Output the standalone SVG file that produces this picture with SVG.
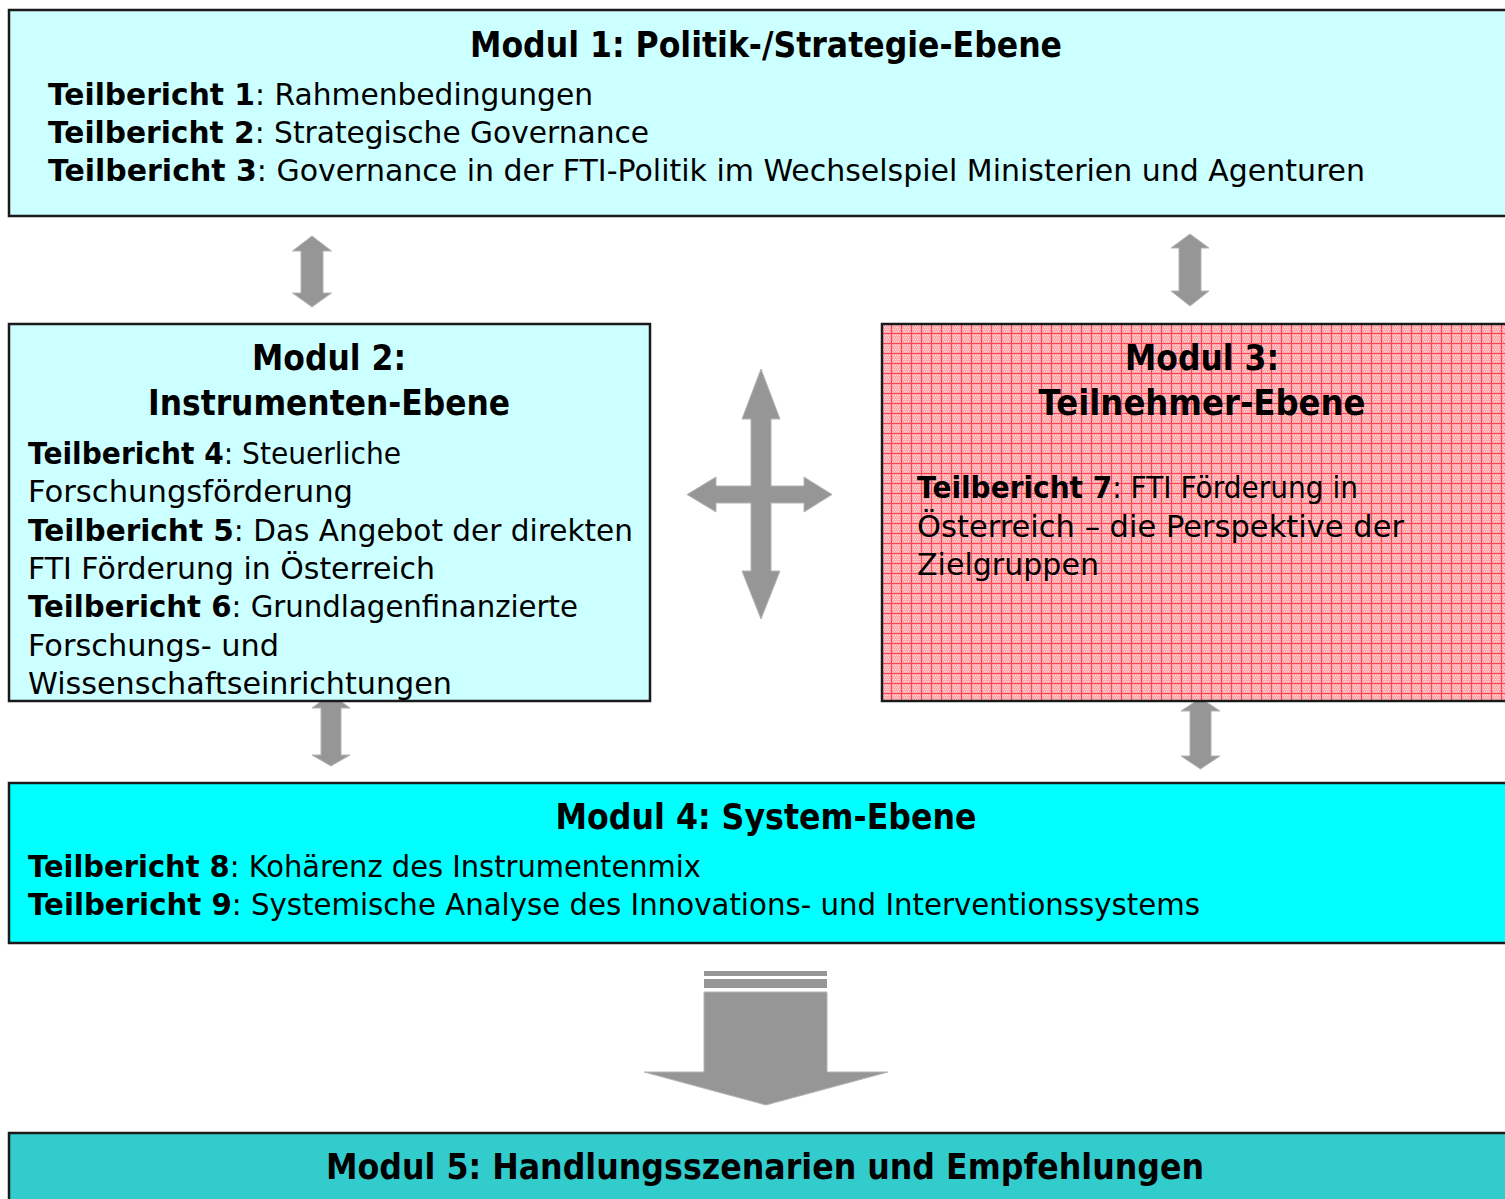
<svg xmlns="http://www.w3.org/2000/svg" width="1505" height="1199" viewBox="0 0 1505 1199">
<style>
.box{stroke:#1a1a1a;stroke-width:2.5}
.t{font-family:"DejaVu Sans","Liberation Sans",sans-serif;fill:#000}
.h{font-size:36px;font-weight:bold}
.b{font-size:30px}
.bb{font-weight:bold}
.arr{fill:#969696;stroke:#b4b4b4;stroke-width:1}
.d{fill:#ffdcdc}
</style>
<defs>
<pattern id="grid" x="881" y="323" width="10" height="10" patternUnits="userSpaceOnUse">
<rect width="10" height="10" fill="#ffa6ab"/>
<rect class="d" x="2" y="2" width="1" height="1"/>
<rect class="d" x="4" y="2" width="1" height="1"/>
<rect class="d" x="6" y="2" width="1" height="1"/>
<rect class="d" x="8" y="2" width="1" height="1"/>
<rect class="d" x="3" y="4" width="1" height="1"/>
<rect class="d" x="5" y="4" width="1" height="1"/>
<rect class="d" x="7" y="4" width="1" height="1"/>
<rect class="d" x="2" y="6" width="1" height="1"/>
<rect class="d" x="4" y="6" width="1" height="1"/>
<rect class="d" x="6" y="6" width="1" height="1"/>
<rect class="d" x="8" y="6" width="1" height="1"/>
<rect class="d" x="3" y="8" width="1" height="1"/>
<rect class="d" x="5" y="8" width="1" height="1"/>
<rect class="d" x="7" y="8" width="1" height="1"/>
<rect x="0" y="0" width="1" height="10" fill="#ff4455"/>
<rect x="0" y="0" width="10" height="1" fill="#ff4455"/>
</pattern>
</defs>

<g id="connectors">
<path class="arr" d="M312,236 L331.5,251 L323,251 L323,293 L331.5,293 L312,307 L292.5,293 L301,293 L301,251 L292.5,251 Z"/>
<path class="arr" d="M1190,234 L1209,248 L1201,248 L1201,291 L1209,291 L1190,306 L1171,291 L1179,291 L1179,248 L1171,248 Z"/>
<path class="arr" d="M331,694 L350,708 L341,708 L341,755 L350,755 L331,766 L312,755 L321,755 L321,708 L312,708 Z"/>
<path class="arr" d="M1200.5,698 L1220,711 L1211,711 L1211,756 L1220,756 L1200.5,769 L1181,756 L1190,756 L1190,711 L1181,711 Z"/>
<path class="arr" d="M761,369 L780,419 L771,419 L771,486 L804,486 L804,477 L832,494.5 L804,512 L804,503 L771,503 L771,571 L780,571 L761,619 L742,571 L751,571 L751,503 L716,503 L716,512 L687,494.5 L716,477 L716,486 L751,486 L751,419 L742,419 Z"/>
<rect x="704" y="971" width="123" height="5" fill="#969696"/>
<rect x="704" y="979" width="123" height="9" fill="#969696"/>
<path class="arr" d="M704,992 L827,992 L827,1072 L888,1072 L766,1105 L644,1072 L704,1072 Z"/>
</g>

<g id="modul1">
<rect class="box" x="9" y="10" width="1510" height="206" fill="#ccffff"/>
<text class="t h" x="766" y="57" text-anchor="middle" textLength="592" lengthAdjust="spacingAndGlyphs">Modul 1: Politik-/Strategie-Ebene</text>
<text class="t b" x="48" y="105" textLength="545" lengthAdjust="spacingAndGlyphs"><tspan class="bb">Teilbericht 1</tspan>: Rahmenbedingungen</text>
<text class="t b" x="48" y="143" textLength="601" lengthAdjust="spacingAndGlyphs"><tspan class="bb">Teilbericht 2</tspan>: Strategische Governance</text>
<text class="t b" x="48" y="181" textLength="1317" lengthAdjust="spacingAndGlyphs"><tspan class="bb">Teilbericht 3</tspan>: Governance in der FTI-Politik im  Wechselspiel Ministerien und Agenturen</text>
</g>

<g id="modul2">
<rect class="box" x="9" y="324" width="641" height="377" fill="#ccffff"/>
<text class="t h" x="329" y="370" text-anchor="middle" textLength="154" lengthAdjust="spacingAndGlyphs">Modul 2:</text>
<text class="t h" x="329" y="415" text-anchor="middle" textLength="362" lengthAdjust="spacingAndGlyphs">Instrumenten-Ebene</text>
<text class="t b" x="28" y="464" textLength="373" lengthAdjust="spacingAndGlyphs"><tspan class="bb">Teilbericht 4</tspan>: Steuerliche</text>
<text class="t b" x="28" y="502" textLength="325" lengthAdjust="spacingAndGlyphs">Forschungsförderung</text>
<text class="t b" x="28" y="541" textLength="605" lengthAdjust="spacingAndGlyphs"><tspan class="bb">Teilbericht 5</tspan>: Das Angebot der direkten</text>
<text class="t b" x="28" y="579" textLength="407" lengthAdjust="spacingAndGlyphs">FTI Förderung in Österreich</text>
<text class="t b" x="28" y="617" textLength="550" lengthAdjust="spacingAndGlyphs"><tspan class="bb">Teilbericht 6</tspan>: Grundlagenfinanzierte</text>
<text class="t b" x="28" y="656" textLength="251" lengthAdjust="spacingAndGlyphs">Forschungs- und</text>
<text class="t b" x="28" y="694" textLength="424" lengthAdjust="spacingAndGlyphs">Wissenschaftseinrichtungen</text>
</g>

<g id="modul3">
<rect class="box" x="882" y="324" width="640" height="377" fill="url(#grid)"/>
<text class="t h" x="1202" y="370" text-anchor="middle" textLength="154" lengthAdjust="spacingAndGlyphs">Modul 3:</text>
<text class="t h" x="1202" y="415" text-anchor="middle" textLength="327" lengthAdjust="spacingAndGlyphs">Teilnehmer-Ebene</text>
<text class="t b" x="917" y="498" textLength="441" lengthAdjust="spacingAndGlyphs"><tspan class="bb">Teilbericht 7</tspan>: FTI Förderung in</text>
<text class="t b" x="917" y="537" textLength="487" lengthAdjust="spacingAndGlyphs">Österreich – die Perspektive der</text>
<text class="t b" x="917" y="575" textLength="182" lengthAdjust="spacingAndGlyphs">Zielgruppen</text>
</g>

<g id="modul4">
<rect class="box" x="9" y="783" width="1510" height="160" fill="#00ffff"/>
<text class="t h" x="766" y="829" text-anchor="middle" textLength="421" lengthAdjust="spacingAndGlyphs">Modul 4: System-Ebene</text>
<text class="t b" x="28" y="877" textLength="673" lengthAdjust="spacingAndGlyphs"><tspan class="bb">Teilbericht 8</tspan>: Kohärenz des Instrumentenmix</text>
<text class="t b" x="28" y="915" textLength="1172" lengthAdjust="spacingAndGlyphs"><tspan class="bb">Teilbericht 9</tspan>: Systemische Analyse des Innovations- und Interventionssystems</text>
</g>

<g id="modul5">
<rect class="box" x="9" y="1133" width="1510" height="80" fill="#33cccc"/>
<text class="t h" x="765" y="1179" text-anchor="middle" textLength="878" lengthAdjust="spacingAndGlyphs">Modul 5: Handlungsszenarien und Empfehlungen</text>
</g>
</svg>
